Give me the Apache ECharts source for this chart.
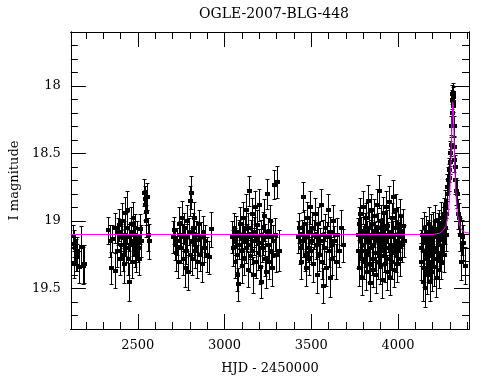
<!DOCTYPE html>
<html><head><meta charset="utf-8">
<script src="https://cdn.jsdelivr.net/npm/echarts@6/dist/echarts.min.js"></script>
<style>html,body{margin:0;padding:0;background:#fff}#c{width:490px;height:380px}</style>
</head><body><div id="c"></div>
<script>
// [HJD-2450000, I mag, error]
const season1 = [[2125,19.11,0.08],[2131,19.17,0.1],[2136,19.2,0.1],[2141,19.25,0.12],[2131,19.32,0.1],[2148,19.22,0.1],[2152,19.27,0.1],[2160,19.34,0.12],[2174,19.19,0.15],[2185,19.33,0.14],[2191,19.32,0.14]];
const season2 = [[2330,19.07,0.1],[2338,19.15,0.12],[2345,19.35,0.12],[2352,19.13,0.1],[2366,19.05,0.11],[2371,19.37,0.13],[2380,19.22,0.12],[2386,19.08,0.1],[2391,19.03,0.12],[2396,19.28,0.12],[2402,19.12,0.1],[2405,19.18,0.11],[2410,19.0,0.13],[2414,19.25,0.12],[2418,19.1,0.1],[2421,19.32,0.14],[2425,19.15,0.11],[2428,18.94,0.12],[2432,19.2,0.1],[2436,19.05,0.12],[2440,18.92,0.14],[2443,19.28,0.12],[2447,19.12,0.1],[2450,19.45,0.14],[2454,19.18,0.11],[2458,19.02,0.12],[2462,19.08,0.1],[2466,19.3,0.12],[2470,19.15,0.11],[2474,18.98,0.12],[2478,19.1,0.1],[2482,19.22,0.12],[2486,19.05,0.1],[2490,19.25,0.13],[2495,19.12,0.12],[2500,19.2,0.1],[2505,19.28,0.12],[2510,19.06,0.11],[2520,19.15,0.12],[2535,18.79,0.1],[2539,18.84,0.1],[2543,18.88,0.11],[2547,18.93,0.1],[2550,19.0,0.12],[2553,18.82,0.1],[2556,19.1,0.12],[2562,19.15,0.13]];
const season3 = [[2702,19.12,0.12],[2708,19.07,0.1],[2714,19.18,0.11],[2720,19.24,0.13],[2726,19.15,0.1],[2733,19.3,0.12],[2738,19.02,0.12],[2744,19.1,0.1],[2748,19.2,0.11],[2753,18.98,0.13],[2758,19.28,0.12],[2762,19.12,0.1],[2766,19.05,0.11],[2770,19.35,0.14],[2774,19.16,0.11],[2778,19.22,0.1],[2782,19.0,0.12],[2786,19.12,0.1],[2790,19.38,0.13],[2794,19.08,0.1],[2798,19.25,0.12],[2802,18.85,0.11],[2806,18.79,0.12],[2810,19.15,0.1],[2814,19.28,0.12],[2818,19.05,0.11],[2822,19.18,0.1],[2826,18.98,0.12],[2830,19.22,0.13],[2835,19.1,0.1],[2840,19.3,0.12],[2845,19.14,0.11],[2850,19.02,0.1],[2856,19.25,0.12],[2862,19.12,0.11],[2868,19.32,0.13],[2875,19.08,0.12],[2882,19.2,0.1],[2890,19.15,0.12],[2900,19.25,0.13],[2912,19.27,0.12],[2924,19.06,0.13]];
const season4 = [[3045,19.12,0.12],[3050,19.2,0.13],[3054,19.05,0.11],[3058,19.3,0.12],[3062,19.15,0.1],[3066,19.08,0.12],[3070,19.25,0.13],[3074,19.4,0.12],[3078,19.47,0.12],[3082,19.1,0.11],[3086,19.18,0.1],[3090,19.02,0.12],[3094,19.22,0.11],[3098,19.33,0.13],[3102,19.12,0.1],[3106,18.98,0.12],[3110,19.15,0.11],[3114,19.28,0.12],[3118,19.06,0.1],[3122,19.2,0.11],[3126,18.92,0.12],[3130,19.12,0.1],[3134,19.36,0.13],[3138,19.05,0.11],[3141,18.78,0.11],[3145,19.18,0.1],[3148,19.26,0.12],[3152,19.1,0.11],[3156,18.95,0.12],[3160,19.22,0.1],[3164,19.4,0.13],[3168,19.08,0.11],[3172,19.15,0.1],[3176,18.9,0.12],[3180,19.3,0.12],[3184,19.12,0.1],[3188,19.03,0.11],[3192,19.24,0.12],[3196,19.16,0.1],[3200,18.88,0.12],[3204,19.34,0.13],[3208,19.1,0.11],[3212,19.45,0.12],[3216,19.2,0.1],[3220,19.05,0.12],[3224,19.14,0.11],[3228,18.96,0.12],[3232,19.28,0.13],[3236,19.12,0.1],[3240,19.38,0.12],[3244,18.8,0.11],[3248,19.18,0.12],[3252,19.08,0.1],[3256,19.3,0.13],[3260,19.0,0.12],[3265,19.22,0.11],[3270,19.12,0.12],[3275,19.35,0.13],[3280,19.15,0.12],[3285,18.73,0.11],[3290,19.1,0.12],[3298,19.25,0.13],[3305,18.71,0.12],[3311,19.22,0.15]];
const season5 = [[3425,19.12,0.12],[3430,19.05,0.11],[3435,19.2,0.12],[3440,19.3,0.13],[3445,19.1,0.11],[3451,18.82,0.11],[3455,19.15,0.12],[3460,19.02,0.1],[3464,19.25,0.12],[3468,19.35,0.13],[3472,19.12,0.11],[3476,18.98,0.12],[3480,19.2,0.1],[3484,19.08,0.11],[3488,19.28,0.12],[3492,18.9,0.12],[3496,19.15,0.11],[3500,19.22,0.1],[3505,19.05,0.12],[3510,19.32,0.13],[3515,19.1,0.11],[3520,18.95,0.12],[3525,19.18,0.1],[3530,19.4,0.13],[3535,19.12,0.11],[3540,19.02,0.12],[3545,19.25,0.12],[3550,19.15,0.1],[3555,18.88,0.12],[3560,19.3,0.13],[3565,19.48,0.13],[3570,19.1,0.11],[3575,19.2,0.12],[3580,19.05,0.1],[3585,19.35,0.13],[3590,19.12,0.11],[3595,18.92,0.12],[3600,19.22,0.12],[3605,19.42,0.14],[3610,19.08,0.11],[3615,19.18,0.1],[3620,19.28,0.12],[3625,19.0,0.12],[3630,19.15,0.11],[3640,19.3,0.13],[3650,19.1,0.12],[3660,19.22,0.12],[3672,19.05,0.13],[3685,19.18,0.12]];
const season6 = [[3768,19.1,0.12],[3771,19.22,0.13],[3774,19.02,0.12],[3777,19.35,0.13],[3780,19.15,0.11],[3783,18.95,0.12],[3786,19.28,0.12],[3789,19.08,0.11],[3792,19.42,0.13],[3795,19.18,0.12],[3798,18.9,0.12],[3801,19.12,0.1],[3804,19.3,0.13],[3807,19.05,0.11],[3810,19.22,0.12],[3813,18.98,0.11],[3816,19.38,0.13],[3819,19.12,0.12],[3822,19.25,0.12],[3825,18.85,0.12],[3828,19.15,0.11],[3831,19.32,0.13],[3834,19.05,0.12],[3837,19.46,0.13],[3840,19.2,0.11],[3843,18.92,0.12],[3846,19.1,0.11],[3849,19.28,0.12],[3852,19.02,0.11],[3855,19.18,0.12],[3858,19.36,0.13],[3861,19.08,0.11],[3864,18.96,0.12],[3867,19.24,0.12],[3870,19.12,0.11],[3873,19.4,0.13],[3876,19.15,0.12],[3879,18.88,0.12],[3882,19.3,0.13],[3885,19.05,0.11],[3888,19.2,0.12],[3891,18.78,0.12],[3894,19.12,0.11],[3897,19.34,0.13],[3900,19.0,0.12],[3903,19.22,0.11],[3906,19.1,0.12],[3909,19.44,0.13],[3912,19.16,0.11],[3915,18.94,0.12],[3918,19.26,0.12],[3921,19.06,0.11],[3924,19.32,0.13],[3927,19.14,0.12],[3930,18.9,0.12],[3933,19.2,0.11],[3936,19.38,0.13],[3939,19.04,0.12],[3942,19.12,0.11],[3945,19.28,0.12],[3948,18.86,0.12],[3951,19.18,0.11],[3954,19.42,0.13],[3957,19.08,0.12],[3960,19.24,0.12],[3963,18.98,0.11],[3966,19.3,0.13],[3969,19.12,0.12],[3972,18.82,0.12],[3975,19.2,0.11],[3978,19.36,0.13],[3981,19.05,0.12],[3984,19.15,0.11],[3987,19.26,0.12],[3990,18.92,0.12],[3993,19.1,0.11],[3996,19.32,0.13],[3999,19.02,0.12],[4002,19.2,0.12],[4006,19.12,0.11],[4010,18.96,0.12],[4014,19.28,0.13],[4018,19.08,0.12],[4022,19.18,0.12],[4028,19.04,0.13],[4033,19.15,0.12]];
const season7 = [[4132,19.2,0.13],[4135,19.3,0.14],[4138,19.1,0.12],[4141,19.45,0.14],[4144,19.22,0.13],[4147,19.05,0.12],[4150,19.35,0.14],[4153,19.5,0.14],[4156,19.15,0.12],[4159,19.28,0.13],[4162,19.08,0.12],[4165,19.4,0.14],[4168,19.2,0.12],[4171,19.12,0.13],[4174,19.32,0.13],[4177,19.02,0.12],[4180,19.25,0.13],[4183,19.45,0.14],[4186,19.15,0.12],[4189,19.08,0.13],[4192,19.3,0.13],[4195,19.18,0.12],[4198,19.38,0.14],[4201,19.05,0.12],[4204,19.22,0.13],[4207,19.12,0.12],[4210,19.34,0.14],[4213,19.0,0.12],[4216,19.2,0.13],[4219,19.42,0.14],[4222,19.1,0.12],[4225,19.28,0.13],[4228,19.06,0.12],[4231,19.18,0.12],[4234,19.36,0.14],[4237,19.04,0.12],[4240,19.24,0.13],[4243,19.12,0.12],[4246,18.98,0.12],[4249,19.3,0.13],[4252,19.08,0.12],[4255,19.2,0.12],[4258,19.02,0.12],[4261,19.14,0.12],[4264,18.95,0.12],[4267,19.25,0.13],[4270,19.05,0.12],[4273,18.88,0.11],[4276,19.1,0.12],[4279,18.95,0.11],[4282,18.8,0.11]];
const eventPts = [[4285,18.75,0.1],[4289,18.7,0.1],[4292,18.68,0.1],[4295,18.62,0.09],[4298,18.5,0.09],[4302,18.56,0.09],[4305,18.44,0.08],[4308,18.3,0.08],[4310,18.2,0.08],[4312,18.1,0.07],[4313,18.06,0.07],[4314,18.08,0.07],[4315,18.05,0.07],[4316,18.12,0.07],[4318,18.15,0.07],[4320,18.3,0.08],[4322,18.45,0.08],[4325,18.55,0.09],[4328,18.7,0.1],[4331,18.6,0.09],[4335,18.78,0.1],[4340,18.8,0.1],[4346,18.95,0.11],[4350,18.98,0.11],[4355,19.1,0.12],[4359,19.1,0.12],[4364,19.3,0.14],[4369,19.12,0.13],[4376,19.16,0.13],[4384,19.33,0.14]];
const modelCurve = [[2114,19.10],[4200,19.10],[4240,19.09],[4260,19.07],[4275,19.04],[4285,18.98],[4292,18.9],[4298,18.8],[4303,18.65],[4307,18.45],[4311,18.25],[4314,18.15],[4316,18.12],[4318,18.14],[4320,18.22],[4323,18.4],[4327,18.6],[4331,18.72],[4336,18.85],[4342,18.95],[4350,19.0],[4360,19.05],[4375,19.08],[4409,19.09]];
const xMajor = [2500,3000,3500,4000];
const xMinor = [2200,2300,2400,2600,2700,2800,2900,3100,3200,3300,3400,3600,3700,3800,3900,4100,4200,4300,4400];
const yMajor = [18,18.5,19,19.5];
const yMinor = [17.7,17.8,17.9,18.1,18.2,18.3,18.4,18.6,18.7,18.8,18.9,19.1,19.2,19.3,19.4,19.6,19.7];

const allPts = [].concat(season1,season2,season3,season4,season5,season6,season7,eventPts);
const FONT = 'DejaVu Serif';
const X0 = 2114, X1 = 4409, Y0 = 17.6, Y1 = 19.8;

function xAx(pos, vals, len, label, name) {
  return {type:'value', min:X0, max:X1, position:pos, gridIndex:0,
    axisLine:{show:true, onZero:false, lineStyle:{color:'#000', width:1}},
    axisTick:{show:true, inside:true, length:len, customValues:vals, lineStyle:{color:'#000', width:1}},
    axisLabel:{show:label, customValues:vals, formatter:v=>String(v), color:'#000', fontFamily:FONT, fontSize:13, margin:10},
    splitLine:{show:false},
    name: name || '', nameLocation:'middle', nameGap:33,
    nameTextStyle:{color:'#000', fontFamily:FONT, fontSize:13}};
}
function yAx(pos, vals, len, label, name) {
  return {type:'value', min:Y0, max:Y1, inverse:true, position:pos, gridIndex:0,
    axisLine:{show:true, onZero:false, lineStyle:{color:'#000', width:1}},
    axisTick:{show:true, inside:true, length:len, customValues:vals, lineStyle:{color:'#000', width:1}},
    axisLabel:{show:label, customValues:vals, formatter:v=>String(v), color:'#000', fontFamily:FONT, fontSize:13, margin:10},
    splitLine:{show:false},
    name: name || '', nameLocation:'middle', nameGap:42, nameRotate:90,
    nameTextStyle:{color:'#000', fontFamily:FONT, fontSize:13}};
}

const chart = echarts.init(document.getElementById('c'), null, {renderer:'canvas'});
chart.setOption({
  animation:false,
  backgroundColor:'#fff',
  title:{text:'OGLE-2007-BLG-448', left:269, textAlign:'center', top:2,
    textStyle:{color:'#000', fontFamily:FONT, fontSize:14, fontWeight:'normal'}},
  grid:{left:70, top:32, width:399, height:300},
  xAxis:[xAx('bottom', xMajor, 15, true, 'HJD - 2450000'), xAx('bottom', xMinor, 7, false), xAx('top', xMajor, 15, false), xAx('top', xMinor, 7, false)],
  yAxis:[yAx('left', yMajor, 15, true, 'I magnitude'), yAx('left', yMinor, 7, false), yAx('right', yMajor, 15, false), yAx('right', yMinor, 7, false)],
  series:[
    {type:'custom', xAxisIndex:0, yAxisIndex:0, clip:true, data:allPts,
     encode:{x:0, y:1},
     renderItem:function(params, api){
       const x = api.value(0), m = api.value(1), e = api.value(2);
       const c = api.coord([x, m]);
       const top = api.coord([x, m - e]), bot = api.coord([x, m + e]);
       const px = Math.round(c[0]) + 0.5;
       const ty = Math.round(top[1]) + 0.5, by = Math.round(bot[1]) + 0.5;
       const cy = Math.round(c[1]);
       const s = {stroke:'#000', lineWidth:1};
       return {type:'group', children:[
         {type:'line', shape:{x1:px, y1:ty, x2:px, y2:by}, style:s},
         {type:'line', shape:{x1:px-2, y1:ty, x2:px+2, y2:ty}, style:s},
         {type:'line', shape:{x1:px-2, y1:by, x2:px+2, y2:by}, style:s},
         {type:'rect', shape:{x:px-2.5, y:cy-2, width:5, height:4}, style:{fill:'#000'}}
       ]};
     }},
    {type:'line', xAxisIndex:0, yAxisIndex:0, data:modelCurve, showSymbol:false, smooth:false,
     lineStyle:{color:'#ff00ff', width:1}, z:5, silent:true}
  ]
});
</script></body></html>
